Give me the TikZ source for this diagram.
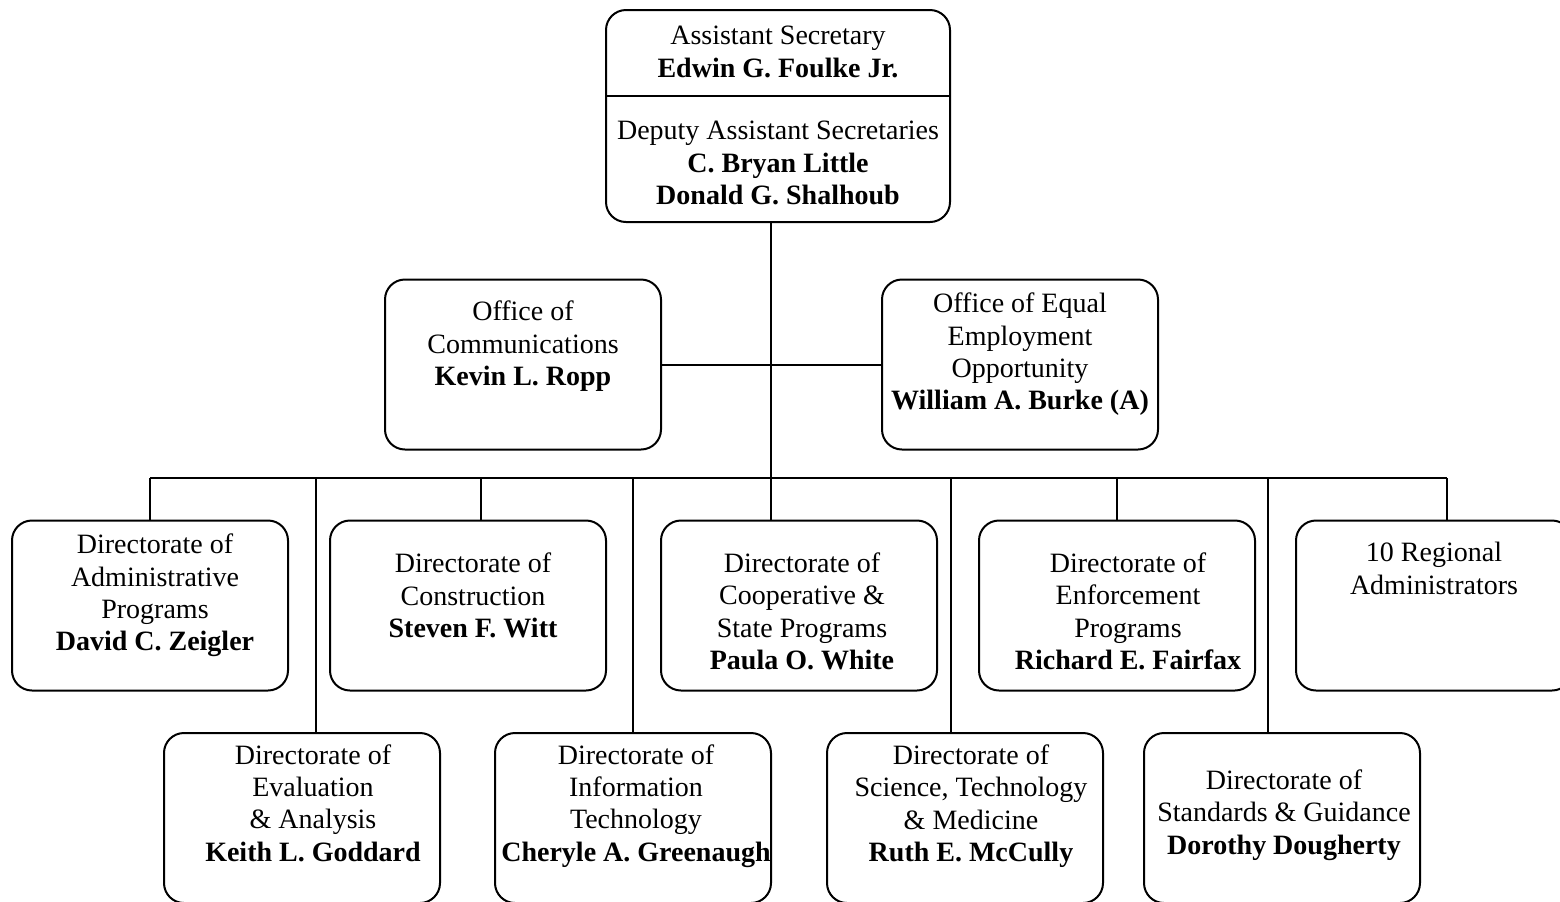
\documentclass[tikz,border=0pt]{standalone}
\usepackage{fontspec}
\setmainfont{Liberation Serif}
\usetikzlibrary{positioning}

\tikzstyle{box} = [rectangle, draw, rounded corners=10pt, line width=1pt, minimum width=138pt, minimum height=85pt, inner sep=0pt, outer sep=0pt]
\tikzstyle{txt} = [align=center, inner sep=0pt, font=\fontsize{14}{16.2}\selectfont]
\tikzstyle{line} = [line width=1pt]

\begin{document}
\begin{tikzpicture}[x=0.5pt, y=-0.5pt]
    \useasboundingbox (0,0) rectangle (1560,901);

    % Boxes
    \node(top) [box, minimum width=172pt, minimum height=106pt] at (778,116) {};
    \node(comms) [box] at (523,364.5) {};
    \node(eeo) [box, right=110.5pt of comms] {};

    \node(admin) [box] at (150,605.5) {};
    \node(constr) [box, right=21pt of admin] {};
    \node(coop) [box, right=27.5pt of constr] {};
    \node(enf) [box, right=21pt of coop] {};
    \node(reg) [box, right=20.5pt of enf] {};

    \node(eval) [box] at (302,818) {};
    \node(it) [box, right=27.5pt of eval] {};
    \node(sci) [box, right=28pt of it] {};
    \node(std) [box, right=20.5pt of sci] {};

    % Texts
    \node(top-a) [txt] at ([yshift=32pt]top.center) {Assistant Secretary\\ \textbf{Edwin G. Foulke Jr.}};
    \node(top-b) [txt] at ([yshift=-23.5pt]top.center) {Deputy Assistant Secretaries\\ \textbf{C. Bryan Little}\\ \textbf{Donald G. Shalhoub}};
    \node(comms-t) [txt] at ([yshift=9pt]comms.center) {Office of\\ Communications\\ \textbf{Kevin L. Ropp}};
    \node(eeo-t) [txt] at ([yshift=5pt]eeo.center) {Office of Equal\\ Employment\\ Opportunity\\ \textbf{William A. Burke (A)}};

    \node(admin-t) [txt] at ([xshift=2.5pt,yshift=5pt]admin.center) {Directorate of\\ Administrative\\ Programs\\ \textbf{David C. Zeigler}};
    \node(constr-t) [txt] at ([xshift=2.5pt,yshift=5pt]constr.center) {Directorate of\\ Construction\\ \textbf{Steven F. Witt}};
    \node(coop-t) [txt] at ([xshift=1.5pt,yshift=-3pt]coop.center) {Directorate of\\ Cooperative \&\\ State Programs\\ \textbf{Paula O. White}};
    \node(enf-t) [txt] at ([xshift=5.5pt,yshift=-3pt]enf.center) {Directorate of\\ Enforcement\\ Programs\\ \textbf{Richard E. Fairfax}};
    \node(reg-t) [txt] at ([yshift=18.5pt]reg.center) {10 Regional\\ Administrators};

    \node(eval-t) [txt] at ([xshift=5.5pt,yshift=7.5pt]eval.center) {Directorate of\\ Evaluation\\ \& Analysis\\ \textbf{Keith L. Goddard}};
    \node(it-t) [txt] at ([xshift=1.5pt,yshift=6pt]it.center) {Directorate of\\ Information\\ Technology\\ \textbf{Cheryle A. Greenaugh}};
    \node(sci-t) [txt] at ([xshift=3pt,yshift=6pt]sci.center) {Directorate of\\ Science, Technology\\ \& Medicine\\ \textbf{Ruth E. McCully}};
    \node(std-t) [txt] at ([xshift=1pt,yshift=1.5pt]std.center) {Directorate of\\ Standards \& Guidance\\ \textbf{Dorothy Dougherty}};

    % Lines
    \coordinate(hub) at (771,478);
    \draw [line] ([yshift=-43pt]top.north west) -- ([yshift=-43pt]top.north east);
    \draw [line] (top.south -| hub) -- (hub);
    \draw [line] (comms.east) -- (eeo.west);
    \draw [line] (admin.north |- hub) -- ([xshift=6.5pt]reg.north |- hub);

    \draw [line] (admin.north) -- (admin.north |- hub);
    \draw [line] ([xshift=6.5pt]constr.north) -- ([xshift=6.5pt]constr.north |- hub);
    \draw [line] (hub) -- (hub |- coop.north);
    \draw [line] (enf.north) -- (enf.north |- hub);
    \draw [line] ([xshift=6.5pt]reg.north) -- ([xshift=6.5pt]reg.north |- hub);

    \draw [line] ([xshift=7pt]eval.north) -- ([xshift=7pt]eval.north |- hub);
    \draw [line] (it.north) -- (it.north |- hub);
    \draw [line] ([xshift=-7pt]sci.north) -- ([xshift=-7pt]sci.north |- hub);
    \draw [line] ([xshift=-7pt]std.north) -- ([xshift=-7pt]std.north |- hub);

\end{tikzpicture}
\end{document}
